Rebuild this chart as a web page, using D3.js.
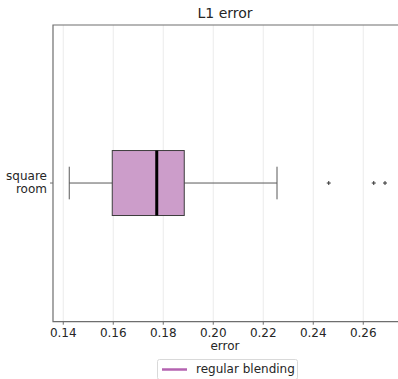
<!DOCTYPE html>
<html><head><meta charset="utf-8">
<script src="https://cdn.jsdelivr.net/npm/d3@7"></script>
<style>body{margin:0;background:#fff}svg{display:block;font-family:"DejaVu Sans",sans-serif}</style>
</head><body><svg id="c" width="398" height="379"></svg>
<script>
const categories = ["square\nroom"];
const seriesNames = ["regular blending"];
const whiskerLow = [0.1424];
const q1 = [0.1596];
const median = [0.1774];
const q3 = [0.1884];
const whiskerHigh = [0.2255];
const outliers = [[0.2462, 0.2642, 0.2687]];
const xTicks = [0.14, 0.16, 0.18, 0.20, 0.22, 0.24, 0.26];

const svg = d3.select("#c");
const L = 53, T = 25, B = 321.7;
const x = d3.scaleLinear().domain([0.1359, 0.2750]).range([L, L + (0.2750-0.1359)*2500]);
const y = d3.scaleLinear().domain([0.5326, 1.5326]).range([B, T]);
const boxW = 0.219, capW = 0.11;
const fill = "#cc9dca", legendColor = "#b463b1", textColor = "#262626";

// grid
svg.append("g").selectAll("line").data(xTicks).join("line")
  .attr("x1", d => x(d)).attr("x2", d => x(d)).attr("y1", T).attr("y2", B)
  .attr("stroke", "#ebebeb").attr("stroke-width", 1);

categories.forEach((c, i) => {
  const p = i + 1, cy = y(p);
  const g = svg.append("g");
  g.append("line").attr("x1", x(whiskerLow[i])).attr("x2", x(q1[i])).attr("y1", cy).attr("y2", cy).attr("stroke", "#595959").attr("stroke-width", 1);
  g.append("line").attr("x1", x(q3[i])).attr("x2", x(whiskerHigh[i])).attr("y1", cy).attr("y2", cy).attr("stroke", "#595959").attr("stroke-width", 1);
  [whiskerLow[i], whiskerHigh[i]].forEach(v => {
    g.append("line").attr("x1", x(v)).attr("x2", x(v)).attr("y1", y(p + capW/2)).attr("y2", y(p - capW/2)).attr("stroke", "#595959").attr("stroke-width", 1);
  });
  g.append("rect").attr("x", x(q1[i])).attr("y", y(p + boxW/2)).attr("width", x(q3[i]) - x(q1[i])).attr("height", y(p - boxW/2) - y(p + boxW/2))
    .attr("fill", fill).attr("stroke", "#3d3d3d").attr("stroke-width", 1);
  g.append("line").attr("x1", x(median[i])).attr("x2", x(median[i])).attr("y1", y(p + boxW/2)).attr("y2", y(p - boxW/2)).attr("stroke", "#000").attr("stroke-width", 3);
  g.selectAll("path.o").data(outliers[i]).join("path")
    .attr("d", d => `M${x(d)-2},${cy}h4M${x(d)},${cy-2}v4`).attr("stroke", "#333").attr("stroke-width", 1);
});

// spines: left, top, bottom
svg.append("path").attr("d", `M398,${T}H${L}V${B}H398`).attr("fill", "none").attr("stroke", "#6e6e6e").attr("stroke-width", 1.2);

// x axis ticks
const xa = svg.append("g");
xTicks.forEach(t => {
  xa.append("line").attr("x1", x(t)).attr("x2", x(t)).attr("y1", B).attr("y2", B + 3).attr("stroke", "#6e6e6e");
  xa.append("text").attr("x", x(t)).attr("y", B + 12).attr("dominant-baseline", "middle").attr("text-anchor", "middle").attr("font-size", 12).attr("fill", textColor).text(d3.format(".2f")(t));
});
svg.append("text").attr("x", 225).attr("y", 346).attr("dominant-baseline", "middle").attr("text-anchor", "middle").attr("font-size", 12).attr("fill", textColor).text("error");

// y ticks
categories.forEach((c, i) => {
  const cy = y(i + 1);
  svg.append("line").attr("x1", L - 3).attr("x2", L).attr("y1", cy).attr("y2", cy).attr("stroke", "#6e6e6e");
  const lines = c.split("\n");
  lines.forEach((ln, j) => {
    svg.append("text").attr("x", L - 6).attr("y", cy + (j - (lines.length-1)/2) * 13.5).attr("dominant-baseline", "middle").attr("text-anchor", "end").attr("font-size", 12).attr("fill", textColor).text(ln);
  });
});

svg.append("text").attr("x", 225).attr("y", 14).attr("dominant-baseline", "middle").attr("text-anchor", "middle").attr("font-size", 14).attr("fill", textColor).text("L1 error");

// legend
const lg = svg.append("g");
lg.append("rect").attr("x", 157.5).attr("y", 359.5).attr("width", 140).attr("height", 20).attr("rx", 2).attr("fill", "#fff").attr("stroke", "#d9d9d9");
lg.append("line").attr("x1", 162).attr("x2", 187).attr("y1", 369.5).attr("y2", 369.5).attr("stroke", legendColor).attr("stroke-width", 2.5);
lg.append("text").attr("x", 196).attr("y", 369.5).attr("dominant-baseline", "middle").attr("font-size", 12).attr("fill", textColor).text(seriesNames[0]);
</script></body></html>
